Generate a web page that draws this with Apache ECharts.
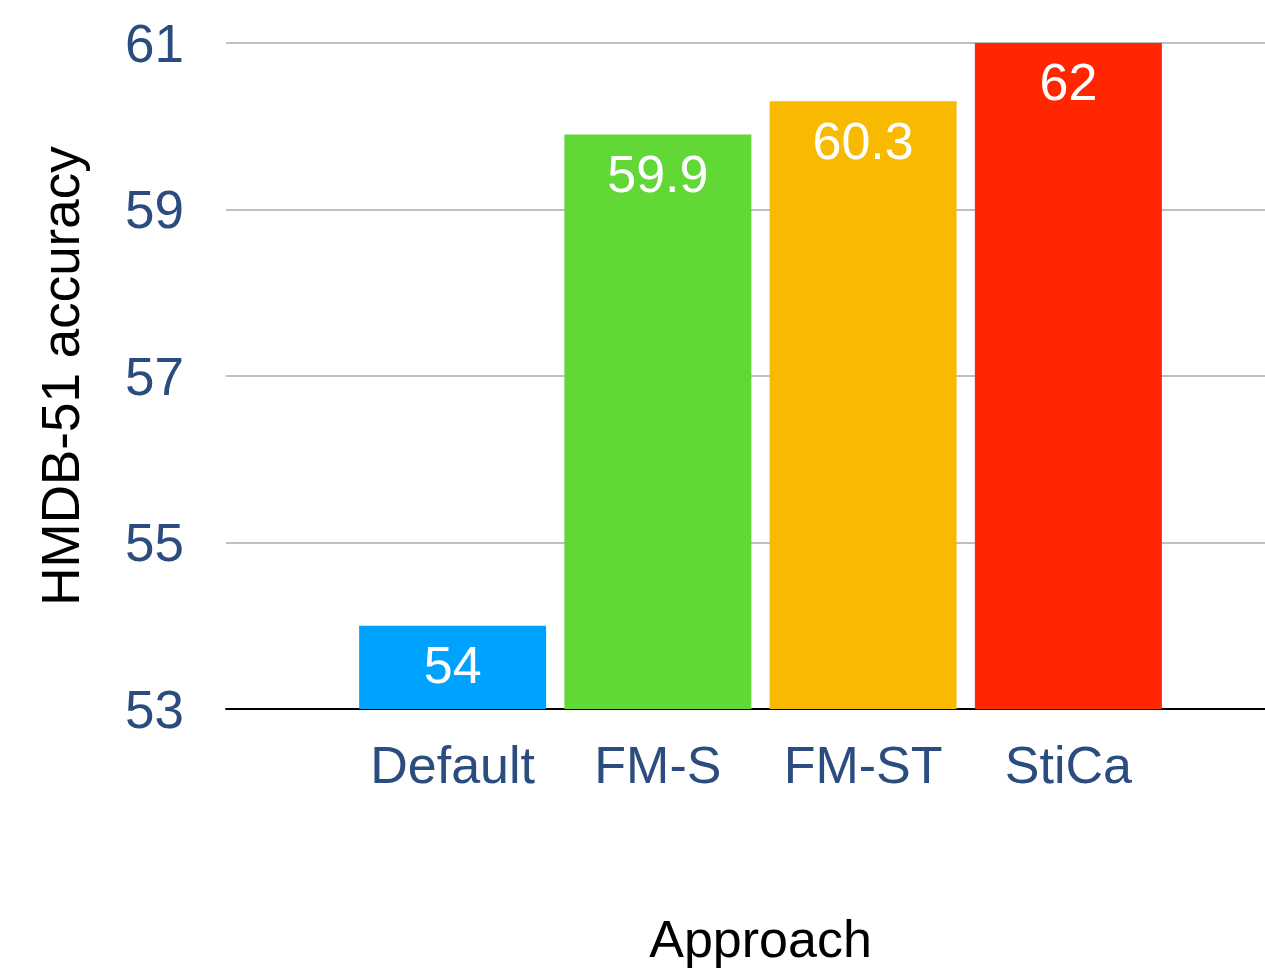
<!DOCTYPE html>
<html>
<head>
<meta charset="utf-8">
<script src="https://cdn.jsdelivr.net/npm/echarts@6/dist/echarts.min.js"></script>
<style>
html,body{margin:0;padding:0;background:#fff;}
#chart{width:1265px;height:968px;}
</style>
</head>
<body>
<div id="chart"></div>
<script>
var categories = ['Default', 'FM-S', 'FM-ST', 'StiCa'];
var values = [54, 59.9, 60.3, 62];
var barColors = ['#00A2FF', '#61D836', '#F8BA00', '#FF2600'];
var yMin = 53, yMax = 61, yStep = 2;

var FONT = 'Liberation Sans, Arial, Helvetica, sans-serif';
var LABEL_COLOR = '#2B4C7E';

var chart = echarts.init(document.getElementById('chart'), null, {renderer: 'canvas'});
chart.setOption({
  animation: false,
  backgroundColor: '#ffffff',
  grid: [
    {left: 226, right: 0, top: 43, bottom: 259, containLabel: false, outerBoundsMode: 'none'},
    {left: 350, right: 94, top: 43, bottom: 259, containLabel: false, outerBoundsMode: 'none'}
  ],
  xAxis: [
    {
      gridIndex: 0, type: 'value', min: 0, max: 1,
      axisLine: {show: true, onZero: false, lineStyle: {color: '#000000', width: 2}},
      axisTick: {show: false}, axisLabel: {show: false}, splitLine: {show: false}
    },
    {
      gridIndex: 1, type: 'category', data: categories,
      axisLine: {show: false}, axisTick: {show: false},
      axisLabel: {color: LABEL_COLOR, fontSize: 52, fontFamily: FONT, margin: 34, interval: 0},
      name: 'Approach', nameLocation: 'middle', nameGap: 208,
      nameTextStyle: {color: '#000000', fontSize: 52, fontFamily: FONT}
    }
  ],
  yAxis: [
    {
      gridIndex: 0, type: 'value', min: yMin, max: yMax, interval: yStep,
      axisLine: {show: false}, axisTick: {show: false},
      axisLabel: {color: LABEL_COLOR, fontSize: 53, fontFamily: FONT, margin: 42,
                  verticalAlign: 'top', lineHeight: 8},
      splitLine: {show: true, lineStyle: {color: '#BFBFBF', width: 2}},
      name: 'HMDB-51 accuracy', nameLocation: 'middle', nameGap: 135,
      nameTextStyle: {color: '#000000', fontSize: 53, fontFamily: FONT}
    },
    {
      gridIndex: 1, type: 'value', min: yMin, max: yMax, interval: yStep,
      show: false, splitLine: {show: false}
    }
  ],
  series: [{
    type: 'bar',
    xAxisIndex: 1, yAxisIndex: 1,
    clip: true,
    barCategoryGap: '8.9%',
    data: values.map(function (v, i) {
      return {value: v, itemStyle: {color: barColors[i]}};
    }),
    label: {
      show: true, position: 'insideTop', distance: 17,
      color: '#ffffff', fontSize: 52, fontFamily: FONT
    }
  }]
});
</script>
</body>
</html>
